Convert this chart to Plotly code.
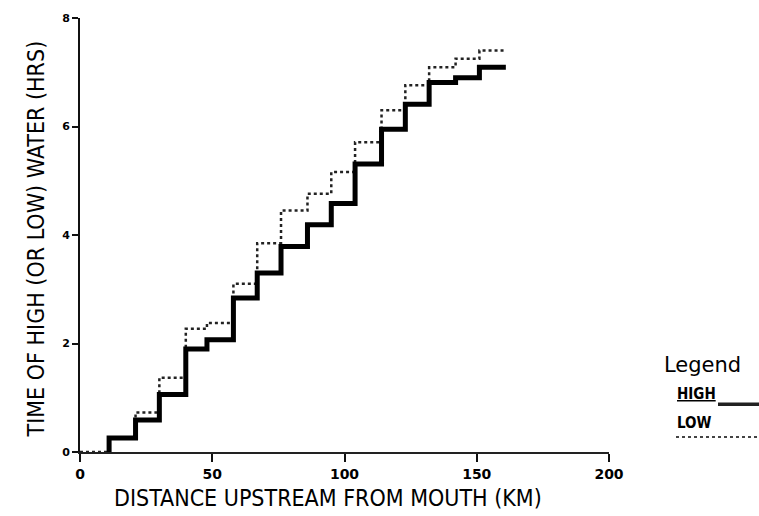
import plotly.graph_objects as go

# Step boundaries along the estuary (km) and the timing level of each reach (hours)
step_km = [0, 11, 21, 30, 40, 48, 58, 67, 76, 86, 95, 104, 114, 123, 132, 142, 151, 161]
high_hrs = [0, 0.26, 0.59, 1.06, 1.90, 2.07, 2.84, 3.30, 3.79, 4.19, 4.58,
            5.31, 5.95, 6.41, 6.81, 6.90, 7.09]
low_hrs = [0, 0.26, 0.73, 1.37, 2.27, 2.38, 3.10, 3.85, 4.45, 4.76, 5.16,
           5.71, 6.30, 6.76, 7.09, 7.25, 7.40]

x_ticks = [0, 50, 100, 150, 200]
y_ticks = [0, 2, 4, 6, 8]


def staircase(edges, levels, first=0):
    """Corner points of a step curve: level i spans edges[i]..edges[i+1]."""
    xs, ys = [], []
    if first > 0:
        xs.append(edges[first])
        ys.append(levels[first - 1])
    for i in range(first, len(levels)):
        xs += [edges[i], edges[i + 1]]
        ys += [levels[i], levels[i]]
    return xs, ys


W, H = 759, 516
L, R, T, B = 80, 150, 15, 64


def px(xp):
    return (xp - L) / (W - L - R)


def py(yp):
    return (H - B - yp) / (H - T - B)


fig = go.Figure()

lx, ly = staircase(step_km, low_hrs)
fig.add_trace(go.Scatter(x=lx, y=ly, mode="lines", name="LOW",
                         line=dict(color="#222", width=2.5, dash="dot")))

hx, hy = staircase(step_km, high_hrs, first=1)
fig.add_trace(go.Scatter(x=hx, y=hy, mode="lines", name="HIGH",
                         line=dict(color="#000", width=5)))

cond = "DejaVu Sans Condensed, Liberation Sans Narrow, Arial"

fig.update_xaxes(range=[0, 200], tickvals=x_ticks, ticks="outside", ticklen=8,
                 tickwidth=2, tickcolor="#111", showline=True, linecolor="#222",
                 linewidth=1.5, showgrid=False, zeroline=False,
                 tickfont=dict(family="DejaVu Sans", size=14, color="#000", weight="bold"))
fig.update_yaxes(range=[0, 8], tickvals=y_ticks, ticks="outside", ticklen=6,
                 tickwidth=1.5, tickcolor="#111", showline=True, linecolor="#111",
                 linewidth=2, showgrid=False, zeroline=False,
                 tickfont=dict(family="DejaVu Sans", size=11, color="#000", weight="bold"))

# Axis titles
fig.add_annotation(x=px(328), y=py(498), xref="paper", yref="paper",
                   text="DISTANCE UPSTREAM FROM MOUTH (KM)", showarrow=False,
                   xanchor="center", yanchor="middle",
                   font=dict(family=cond, size=23, color="#000"))
fig.add_annotation(x=px(36), y=py(238), xref="paper", yref="paper",
                   text="TIME OF HIGH (OR LOW) WATER (HRS)", showarrow=False,
                   textangle=-90, xanchor="center", yanchor="middle",
                   font=dict(family=cond, size=23, color="#000"))

# Legend block drawn to the right of the plot
fig.add_annotation(x=px(662), y=py(364), xref="paper", yref="paper", text="Legend",
                   showarrow=False, xanchor="left", yanchor="middle",
                   font=dict(family="DejaVu Sans", size=21, color="#000"))
fig.add_annotation(x=px(675), y=py(394), xref="paper", yref="paper", text="<u>HIGH</u>",
                   showarrow=False, xanchor="left", yanchor="middle",
                   font=dict(family=cond, size=15, color="#000", weight="bold"))
fig.add_annotation(x=px(675), y=py(423), xref="paper", yref="paper", text="LOW",
                   showarrow=False, xanchor="left", yanchor="middle",
                   font=dict(family=cond, size=15, color="#000", weight="bold"))
fig.add_shape(type="line", xref="paper", yref="paper", x0=px(718), x1=px(759),
              y0=py(404), y1=py(404), line=dict(color="#222", width=3.5))
fig.add_shape(type="line", xref="paper", yref="paper", x0=px(676), x1=px(759),
              y0=py(437), y1=py(437), line=dict(color="#444", width=2, dash="dot"))

fig.update_layout(width=W, height=H, margin=dict(l=L, r=R, t=T, b=B),
                  paper_bgcolor="white", plot_bgcolor="white", showlegend=False)

fig.write_html("out.html")
